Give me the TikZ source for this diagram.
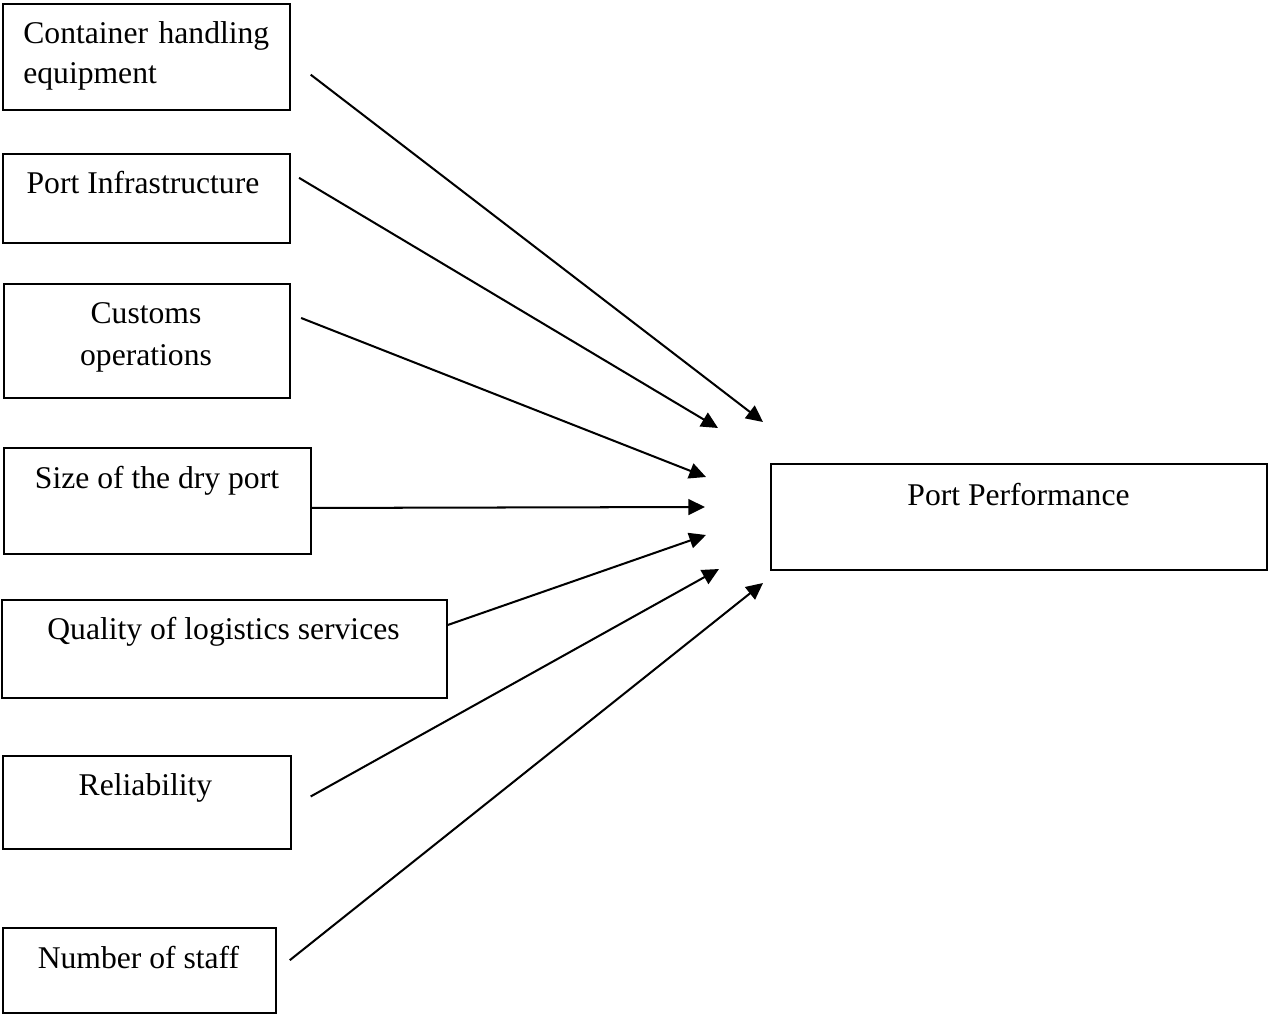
\documentclass[tikz,border=0pt]{standalone}
\usepackage{fontspec}
\setmainfont{Liberation Serif}
\usetikzlibrary{arrows.meta}
\tikzset{
  factor/.style={
    draw,
    line width=1.1pt,
    anchor=north west,
    inner sep=0pt
  },
  boxtext/.style={
    anchor=base,
    inner sep=0pt,
    font=\fontsize{18}{23}\selectfont
  },
  link/.style={
    line width=1.15pt,
    -{Triangle[length=9.5pt,width=9pt]}
  },
}

\begin{document}
\begin{tikzpicture}[x=0.02cm,y=-0.02cm]
    \useasboundingbox (0,0) rectangle (1268,1014);
    % boxes
    \node[factor, minimum width=5.74cm, minimum height=2.12cm] (equip) at (2,3) {};
    \node[factor, minimum width=5.74cm, minimum height=1.78cm] (infra) at (2,153) {};
    \node[factor, minimum width=5.72cm, minimum height=2.28cm] (customs) at (3,283) {};
    \node[factor, minimum width=6.14cm, minimum height=2.12cm] (size) at (3,447) {};
    \node[factor, minimum width=8.9cm, minimum height=1.96cm] (quality) at (1,599) {};
    \node[factor, minimum width=5.76cm, minimum height=1.86cm] (reliab) at (2,755) {};
    \node[factor, minimum width=5.46cm, minimum height=1.7cm] (staff) at (2,927) {};
    \node[factor, minimum width=9.92cm, minimum height=2.12cm] (perf) at (770,463) {};
    % texts
    \node[boxtext, anchor=base west, text width=5.2cm, align=left] (equiptxt) at (23,43) {Container handling\\equipment};
    \node[boxtext] (infratxt) at (143,193) {Port Infrastructure};
    \node[boxtext, text width=5cm, align=center, font=\fontsize{18}{24}\selectfont] (customstxt) at (146,323) {Customs\\operations};
    \node[boxtext] (sizetxt) at (157,488) {Size of the dry port};
    \node[boxtext] (qualitytxt) at (223.5,639) {Quality of logistics services};
    \node[boxtext] (reliabtxt) at (145.5,795) {Reliability};
    \node[boxtext] (stafftxt) at (138.5,968) {Number of staff};
    \node[boxtext] (perftxt) at (1018.5,505) {Port Performance};
    % arrow tips
    \coordinate (tip1) at (763,422);
    \coordinate (tip2) at (718,428);
    \coordinate (tip3) at (706,477);
    \coordinate (tip4) at (705,507);
    \coordinate (tip5) at (706,535);
    \coordinate (tip6) at (719,569);
    \coordinate (tip7) at (763,583);
    % arrows
    \draw[link, shorten <=0.5cm] ([yshift=-0.05cm]equip.east) -- (tip1);
    \draw[link, shorten <=0.19cm] ([yshift=0.51cm]infra.east) -- (tip2);
    \draw[link, shorten <=0.22cm] ([yshift=0.54cm]customs.east) -- (tip3);
    \draw[link] ([yshift=-0.14cm]size.east) -- (tip4);
    \draw[link] ([yshift=0.48cm]quality.east) -- (tip5);
    \draw[link, shorten <=0.43cm] ([yshift=-0.09cm]reliab.east) -- (tip6);
    \draw[link, shorten <=0.33cm] (staff.east) -- (tip7);
\end{tikzpicture}
\end{document}
